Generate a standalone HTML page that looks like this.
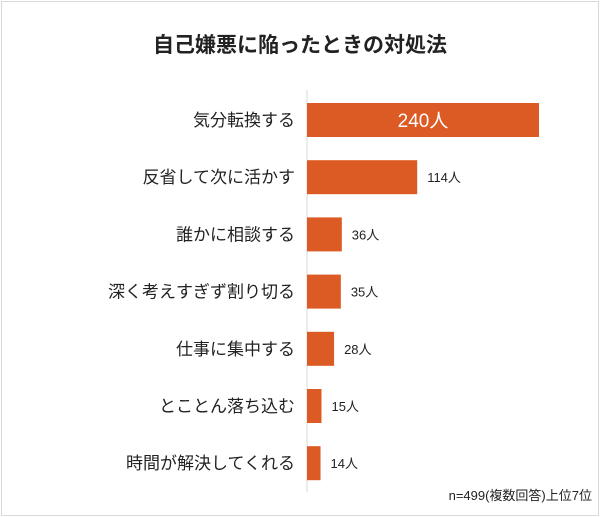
<!DOCTYPE html>
<html><head><meta charset="utf-8">
<style>
html,body{margin:0;padding:0;background:#fff;}
body{width:600px;height:517px;overflow:hidden;font-family:"Liberation Sans","Noto Sans CJK JP",sans-serif;}
#frame{position:absolute;left:1px;top:1px;width:596px;height:513px;border:1px solid #d9d9d9;}
</style></head>
<body>
<div id="frame"></div>
<svg id="chart" width="600" height="517" style="position:absolute;left:0;top:0">
<text x="300" y="52" text-anchor="middle" font-size="21" font-weight="bold" fill="#222" font-family="Liberation Sans, Noto Sans CJK JP, sans-serif">自己嫌悪に陥ったときの対処法</text>
<line x1="307" y1="90" x2="307" y2="492" stroke="#d9d9d9" stroke-width="1"/>
<text x="592" y="500" text-anchor="end" font-size="13" fill="#222" font-family="Liberation Sans, Noto Sans CJK JP, sans-serif">n=499(複数回答)上位7位</text>
<g id="bars"></g>
</svg>
<script>
const categories = ["気分転換する","反省して次に活かす","誰かに相談する","深く考えすぎず割り切る","仕事に集中する","とことん落ち込む","時間が解決してくれる"];
const values = [240,114,36,35,28,15,14];
const valueLabels = ["240人","114人","36人","35人","28人","15人","14人"];

const ns = "http://www.w3.org/2000/svg";
const g = document.getElementById("bars");
const x0 = 307, xScale = v => x0 + v * (232/240);
const yCenter = i => 120 + i * 57.2;
const barH = 34;
function mk(tag, attrs){const e=document.createElementNS(ns,tag);for(const k in attrs)e.setAttribute(k,attrs[k]);return e;}
categories.forEach((c,i)=>{
  const yc = yCenter(i);
  const lab = mk("text",{x:295,y:yc+6,"text-anchor":"end","font-size":"17",fill:"#222","font-family":"Liberation Sans, Noto Sans CJK JP, sans-serif"});
  
  
  lab.textContent = c; g.appendChild(lab);
  const w = xScale(values[i]) - x0;
  const r = mk("rect",{x:x0,y:yc-barH/2,width:w,height:barH,fill:"#dc5a23"});
  
  
  g.appendChild(r);
  const inside = i===0;
  const t = mk("text",{x: inside ? x0+w/2 : x0+w+10, y: yc+(inside?7:5), "text-anchor": inside?"middle":"start","font-size": inside?"19":"13",fill: inside?"#fff":"#222","font-family":"Liberation Sans, Noto Sans CJK JP, sans-serif"});
  
  
  t.textContent = valueLabels[i]; g.appendChild(t);
});
</script>
</body></html>
